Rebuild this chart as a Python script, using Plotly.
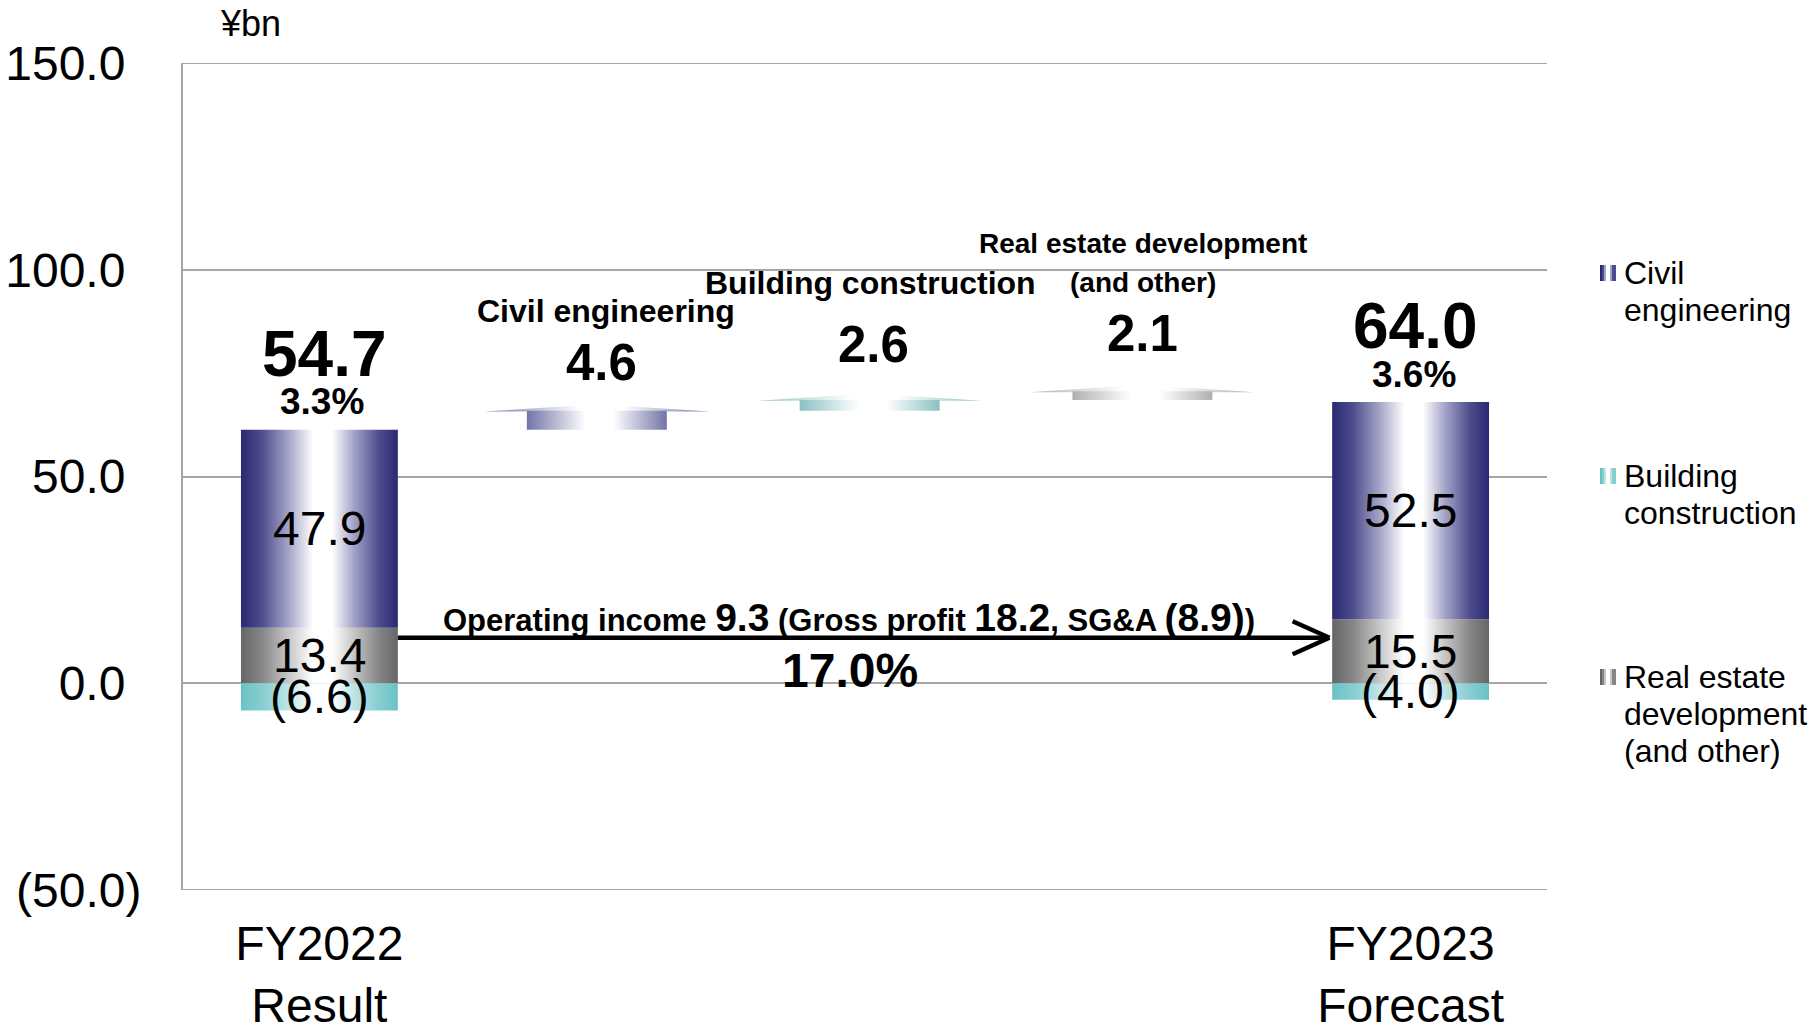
import plotly.graph_objects as go

# ---------------- data ----------------
categories = ["FY2022 Result", "Civil engineering", "Building construction",
              "Real estate development (and other)", "FY2023 Forecast"]
x_tick_labels = ["FY2022<br>Result", "FY2023<br>Forecast"]
segments = ["Civil engineering", "Building construction", "Real estate development (and other)"]
fy2022_values = [47.9, -6.6, 13.4]
fy2023_values = [52.5, -4.0, 15.5]
segment_changes = [4.6, 2.6, 2.1]
totals = [54.7, 64.0]
margin_pct = ["3.3%", "3.6%"]
op_income_change = 9.3
gross_profit_change = 18.2
sga_change = -8.9
op_income_growth = "17.0%"
y_ticks = [-50, 0, 50, 100, 150]
step_titles = [["Civil engineering"], ["Building construction"],
               ["Real estate development", "(and other)"]]
legend_lines = [["Civil", "engineering"], ["Building", "construction"],
                ["Real estate", "development", "(and other)"]]


def fmt(v):
    return f"({abs(v):.1f})" if v < 0 else f"{v:.1f}"


def fmt_tick(v):
    # accounting style: closing parenthesis hangs to the right of the digits
    return fmt(v) if v < 0 else f"{v:.1f}<span style='color:rgba(0,0,0,0)'>)</span>"


# ---------------- styles ----------------
FONT = "Liberation Sans, Arial, sans-serif"
OFF = 8                      # default page margin of the html body
W, H = 1820 - OFF, 1022 - OFF
ML, MT = 183 - OFF, 63 - OFF
PW, PH = 1364, 827
MR, MB = W - ML - PW, H - MT - PH


def scale(edge, mid):
    return [[0, edge[0]], [0.13, edge[1]], [0.3, mid], [0.46, "#FFFFFF"], [0.58, "#FFFFFF"],
            [0.72, mid], [0.88, edge[1]], [1, edge[0]]]

bar_scales = [
    scale(("#2A2872", "#4D4C8C"), "#A3A3C8"),   # civil
    scale(("#69C2C6", "#86CDD0"), "#BDE4E5"),   # building
    scale(("#666666", "#858585"), "#C6C6C6"),   # real estate
]

def light_scale(edge):
    return [[0, edge], [0.42, "#FFFFFF"], [0.62, "#FFFFFF"], [1, edge]]

step_scales = [light_scale("#7373A8"), light_scale("#8CC0C4"), light_scale("#B0B0B0")]
stack_order = [2, 0, 1]   # real estate at bottom, then civil; building negative
BAR_W = 0.575
STEP_W = 0.513
STEP_DX = 0.017
HEAD_W = 0.825
HEAD_H = 1.6

fig = go.Figure()


def poly(xs, ys, cs):
    fig.add_trace(go.Scatter(
        x=xs, y=ys, mode="lines", fill="toself",
        line=dict(width=0, color="rgba(0,0,0,0)"),
        fillgradient=dict(type="horizontal", colorscale=cs),
        hoverinfo="skip", showlegend=False))


def rect(xc, w, y0, y1, cs):
    x0, x1 = xc - w / 2, xc + w / 2
    poly([x0, x1, x1, x0, x0], [y0, y0, y1, y1, y0], cs)


annotations = []

def label(x, y, text, size, bold=False, xshift=0, yshift=0, **kw):
    annotations.append(dict(
        x=x, y=y, xref="x", yref="y", showarrow=False,
        text=f"<b>{text}</b>" if bold else text,
        font=dict(family=FONT, size=size, color="#000000"),
        xshift=xshift, yshift=yshift, **kw))


# stacked end bars
bar_tops = []
for xi, vals in [(0, fy2022_values), (4, fy2023_values)]:
    pos, neg = 0.0, 0.0
    for si in stack_order:
        v = vals[si]
        if v >= 0:
            y0, y1 = pos, pos + v
            pos = y1
        else:
            y0, y1 = neg + v, neg
            neg = y0
        rect(xi, BAR_W, y0, y1, bar_scales[si])
        label(xi, (y0 + y1) / 2, fmt(v), 48)
    bar_tops.append(pos)

for i, xi in enumerate([0, 4]):
    label(xi, bar_tops[i], f"{totals[i]:.1f}", 64, bold=True, yshift=76, xshift=5)
    label(xi, bar_tops[i], margin_pct[i], 37, bold=True, yshift=28, xshift=3)

# waterfall steps
level = bar_tops[0]
title_shifts = [[100], [117], [148, 109]]
title_xshift = [14, 5, 5]
value_shifts = [48, 56, 58]
value_xshift = [9, 8, 5]
for k, ch in enumerate(segment_changes):
    xi = k + 1 + STEP_DX
    y0, y1 = level, level + ch
    poly([xi - HEAD_W / 2, xi + HEAD_W / 2, xi, xi - HEAD_W / 2],
         [y1 - 0.2, y1 - 0.2, y1 + HEAD_H, y1 - 0.2], step_scales[k])
    rect(xi, STEP_W, y0, y1, step_scales[k])
    label(k + 1, y1, fmt(ch), 51, bold=True, yshift=value_shifts[k], xshift=value_xshift[k])
    size = 32 if k < 2 else 28
    for t, s in zip(step_titles[k], title_shifts[k]):
        label(k + 1, y1, t, size, bold=True, yshift=s, xshift=title_xshift[k])
    level = y1

# operating income arrow
ARROW_Y = 11
x_start = 0 + BAR_W / 2
x_end = 4 - BAR_W / 2
shapes = [
    dict(type="line", xref="paper", yref="y", x0=0, x1=1, y0=y_ticks[0], y1=y_ticks[0],
         line=dict(color="#A6A6A6", width=2)),
    dict(type="line", xref="paper", yref="y", x0=0, x1=1, y0=y_ticks[-1], y1=y_ticks[-1],
         line=dict(color="#A6A6A6", width=2)),
    dict(type="line", xref="x", yref="y", x0=x_start, x1=x_end - 0.01, y0=ARROW_Y, y1=ARROW_Y,
         line=dict(color="#000000", width=4.5)),
    dict(type="line", xref="x", yref="y", x0=x_end - 0.145, x1=x_end - 0.01, y0=ARROW_Y + 4, y1=ARROW_Y,
         line=dict(color="#000000", width=4.5)),
    dict(type="line", xref="x", yref="y", x0=x_end - 0.145, x1=x_end - 0.01, y0=ARROW_Y - 4, y1=ARROW_Y,
         line=dict(color="#000000", width=4.5)),
]
big = "font-size:39px"
op_text = (f"<b>Operating income <span style='{big}'>{op_income_change:.1f}</span> "
           f"(Gross profit <span style='{big}'>{gross_profit_change:.1f}</span>, "
           f"SG&amp;A <span style='{big}'>{fmt(sga_change)}</span>)</b>")
annotations.append(dict(x=2, y=ARROW_Y, xref="x", yref="y", showarrow=False, text=op_text,
                        font=dict(family=FONT, size=31, color="#000000"),
                        xshift=-16, yshift=20))
label(2, ARROW_Y, op_income_growth, 48, bold=True, xshift=-15, yshift=-33)


# legend (drawn manually to show gradient swatches); positions in reference pixels
def px_x(px):
    return (px - OFF - ML) / PW


def px_y(py):
    return (MT + PH - (py - OFF)) / PH


legend_y = [273, 476, 677]
LINE_H = 37
for k in range(3):
    cs = bar_scales[k]
    n = 8
    for j in range(n):
        t = (j + 0.5) / n
        for a in range(len(cs) - 1):
            if cs[a][0] <= t <= cs[a + 1][0]:
                col = cs[a][1] if t - cs[a][0] < cs[a + 1][0] - t else cs[a + 1][1]
                break
        shapes.append(dict(type="rect", xref="paper", yref="paper",
                           x0=px_x(1600 + j * 2), x1=px_x(1602 + j * 2),
                           y0=px_y(legend_y[k] + 8), y1=px_y(legend_y[k] - 8),
                           line=dict(width=0), fillcolor=col))
    for li, txt in enumerate(legend_lines[k]):
        annotations.append(dict(x=px_x(1622), y=px_y(legend_y[k] + li * LINE_H),
                                xref="paper", yref="paper", showarrow=False,
                                xanchor="left", yanchor="middle", text=txt,
                                font=dict(family=FONT, size=32, color="#000000")))

annotations.append(dict(x=px_x(250), y=px_y(24), xref="paper", yref="paper", showarrow=False,
                        xanchor="center", yanchor="middle",
                        text="¥bn", font=dict(family=FONT, size=36, color="#000000")))

fig.update_layout(
    width=W, height=H,
    margin=dict(l=ML, r=MR, t=MT, b=MB, autoexpand=False),
    plot_bgcolor="#FFFFFF", paper_bgcolor="#FFFFFF",
    showlegend=False,
    xaxis=dict(range=[-0.5, 4.5], tickvals=[0, 4], ticktext=x_tick_labels,
               tickfont=dict(family=FONT, size=48, color="#000000"),
               showgrid=False, zeroline=False, showline=False, ticks="",
               ticklabelstandoff=21),
    yaxis=dict(range=[-50, 150], tickvals=y_ticks, ticktext=[fmt_tick(v) for v in y_ticks],
               tickfont=dict(family=FONT, size=48, color="#000000"),
               showgrid=True, gridcolor="#A6A6A6", gridwidth=2,
               zeroline=False, showline=True, linecolor="#A6A6A6", linewidth=2,
               ticks="", ticklabelstandoff=30),
    shapes=shapes,
    annotations=annotations,
)

fig.write_html("out.html")
